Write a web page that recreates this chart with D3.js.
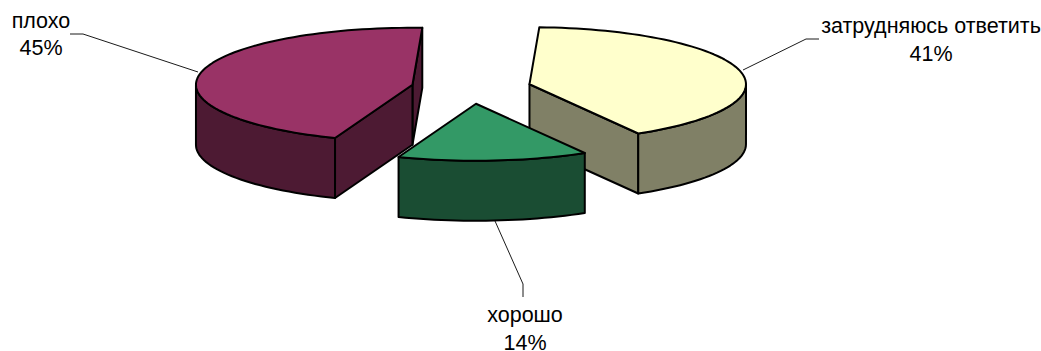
<!DOCTYPE html>
<html><head><meta charset="utf-8">
<script src="https://cdn.jsdelivr.net/npm/d3@7/dist/d3.min.js"></script>
<style>html,body{margin:0;padding:0;background:#fff}svg{display:block}
text{font-family:"Liberation Sans",Arial,sans-serif;font-size:21.5px;fill:#000;text-anchor:middle}</style>
</head><body><svg id="c" width="1041" height="351"></svg>
<script>
const categories = ["затрудняюсь ответить","хорошо","плохо"];
const values = [40.9,14.2,44.9];
const percentLabels = ["41%","14%","45%"];
const topColors = ["#FFFFCC","#339966","#993366"];
const wallColors = ["#808066","#1A4D33","#4D1A33"];
const labelLines = [[931,[33,61]],[525,[322,350]],[41,[28,55]]];
const leaders = [
  [[819,39],[806,39],[743,70]],
  [[523,297],[523,284],[495,221]],
  [[70,34],[83,34],[198,72]]
];
const W=1041,H=351, cx=471.2, cy=88, rx=216.5, ry=57, depth=60, explode=60;
const rad=d=>d*Math.PI/180;
const svg=d3.select("#c");
const pie=d3.pie().sort(null).startAngle(rad(2.6)).endAngle(rad(362.6))(values);
const sx=d3.scaleLinear().domain([-1,1]).range([-rx,rx]);
const sy=d3.scaleLinear().domain([-1,1]).range([-ry,ry]);
const line=d3.line();
function pt(c,a,dy=0){return [c[0]+sx(Math.sin(a)),c[1]-sy(Math.cos(a))+dy];}
function arcPts(c,a0,a1,dy=0){const n=Math.max(2,Math.ceil(Math.abs(a1-a0)/rad(2)));
  return d3.range(n+1).map(i=>pt(c,a0+(a1-a0)*i/n,dy));}
function draw(pts,fill){svg.append("path").attr("d",line(pts)+"Z").attr("fill",fill)
  .attr("stroke","#000").attr("stroke-width",2).attr("stroke-linejoin","round");}
// paint order: pink, yellow, green
[2,0,1].forEach(i=>{
  const s=pie[i], mid=(s.startAngle+s.endAngle)/2;
  const c=[cx+explode*Math.sin(mid), cy-explode*(ry/rx)*Math.cos(mid)];
  const a0=s.startAngle,a1=s.endAngle,wall=wallColors[i];
  const radial=a=>draw([c,pt(c,a),pt(c,a,depth),[c[0],c[1]+depth]],wall);
  if(i===2){radial(a1);radial(a0);}
  if(i===0){radial(a1);}
  // outer wall: part of the rim between 90 and 270 degrees
  const w0=Math.max(a0,rad(90)),w1=Math.min(a1,rad(270));
  if(w1>w0) draw(arcPts(c,w0,w1).concat(arcPts(c,w1,w0,depth)),wall);
  // top face
  draw([c].concat(arcPts(c,a0,a1)),topColors[i]);
});
leaders.forEach(l=>svg.append("path").attr("d",line(l)).attr("fill","none").attr("stroke","#000").attr("stroke-width",0.9));
categories.forEach((cat,i)=>{
  const [x,ys]=labelLines[i];
  svg.append("text").attr("x",x).attr("y",ys[0]).text(cat);
  svg.append("text").attr("x",x).attr("y",ys[1]).text(percentLabels[i]);
});
</script></body></html>
